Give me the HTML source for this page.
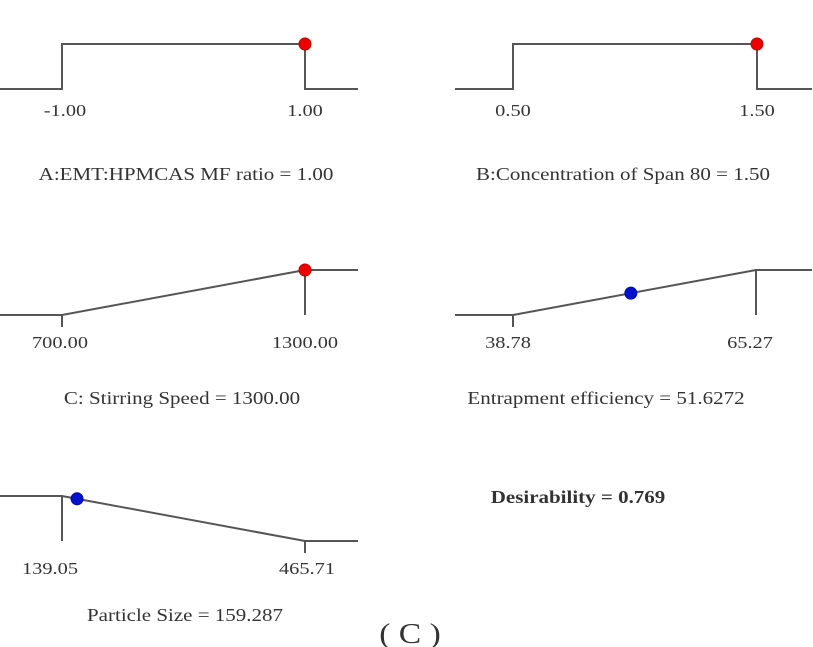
<!DOCTYPE html>
<html><head><meta charset="utf-8">
<style>
body{margin:0;background:#fff;}
svg{display:block;font-family:"Liberation Serif",serif;}
</style></head>
<body>
<svg id="chart" width="813" height="647" viewBox="0 0 813 647"></svg>
<script>
const factorNames = ["A:EMT:HPMCAS MF ratio","B:Concentration of Span 80","C: Stirring Speed","Entrapment efficiency","Particle Size"];
const lowValues = [-1.00, 0.50, 700.00, 38.78, 139.05];
const highValues = [1.00, 1.50, 1300.00, 65.27, 465.71];
const currentValues = [1.00, 1.50, 1300.00, 51.6272, 159.287];
const goalTypes = ["range","range","max","max","min"];
const decimals = [2,2,2,4,3];
const desirabilityText = "Desirability = 0.769";

const layout = [
  {x0:62,x1:305,top:44,bot:89,lx:0,rx:358,ty:180,tc:186,lo:3,ho:0,ly:116},
  {x0:513,x1:757,top:44,bot:89,lx:455,rx:812,ty:180,tc:623,lo:0,ho:0,ly:116},
  {x0:62,x1:305,top:270,bot:315,lx:0,rx:358,ty:404,tc:182,lo:-2,ho:0,ly:348},
  {x0:513,x1:756,top:270,bot:315,lx:455,rx:812,ty:404,tc:606,lo:-5,ho:-6,ly:348},
  {x0:62,x1:305,top:496,bot:541,lx:0,rx:358,ty:621,tc:185,lo:-12,ho:2,ly:574}
];
const SX=1.2;
const NS="http://www.w3.org/2000/svg";
const svg=document.getElementById('chart');
function mk(tag,attrs,parent){const e=document.createElementNS(NS,tag);for(const k in attrs)e.setAttribute(k,attrs[k]);(parent||svg).appendChild(e);return e;}
function txt(parent,x,y,size,str,bold){const t=mk('text',{x:0,y:0,'font-size':size,'text-anchor':'middle',fill:'#333',transform:'translate('+x+','+y+') scale('+SX+',1)'},parent);if(bold)t.setAttribute('font-weight','bold');t.textContent=str;return t;}
factorNames.forEach((name,i)=>{
  const L=layout[i];
  const g=mk('g',{});
  
  
  const xs=v=>L.x0+(v-lowValues[i])/(highValues[i]-lowValues[i])*(L.x1-L.x0);
  const xl=xs(lowValues[i]), xh=xs(highValues[i]);
  let pts, extra=[];
  if(goalTypes[i]==="range"){
    pts=[[L.lx,L.bot],[xl,L.bot],[xl,L.top],[xh,L.top],[xh,L.bot],[L.rx,L.bot]];
  } else if(goalTypes[i]==="max"){
    pts=[[L.lx,L.bot],[xl,L.bot],[xh,L.top],[L.rx,L.top]];
    extra=[[xl,L.bot,xl,L.bot+12],[xh,L.top,xh,L.bot]];
  } else {
    pts=[[L.lx,L.top],[xl,L.top],[xh,L.bot],[L.rx,L.bot]];
    extra=[[xl,L.top,xl,L.bot],[xh,L.bot,xh,L.bot+12]];
  }
  const p=mk('polyline',{points:pts.map(q=>q.join(',')).join(' '),fill:'none',stroke:'#555','stroke-width':2},g);
  
  
  extra.forEach(e=>{const l=mk('line',{x1:e[0],y1:e[1],x2:e[2],y2:e[3],stroke:'#555','stroke-width':2},g);
    
    });
  const cv=currentValues[i], cx=xs(cv);
  let cy;
  if(goalTypes[i]==="range") cy=L.top;
  else if(goalTypes[i]==="max") cy=L.bot+(cx-xl)/(xh-xl)*(L.top-L.bot);
  else cy=L.top+(cx-xl)/(xh-xl)*(L.bot-L.top);
  const isFactor=i<3;
  const d=mk('circle',{cx:cx,cy:cy,r:6,fill:isFactor?'#e00':'#0010d0',stroke:isFactor?'#b00':'#0008a0','stroke-width':1},g);
  
  
  const t1=txt(g,xl+L.lo,L.ly,17,lowValues[i].toFixed(2));
  
  
  const t2=txt(g,xh+L.ho,L.ly,17,highValues[i].toFixed(2));
  
  
  const tt=txt(g,L.tc,L.ty,17.5,name+" = "+cv.toFixed(decimals[i]));
  
  
});
const ds=txt(svg,578,503,17.5,desirabilityText,true);


const cl=txt(svg,410,643,28,"( C )");


</script>
</body></html>
